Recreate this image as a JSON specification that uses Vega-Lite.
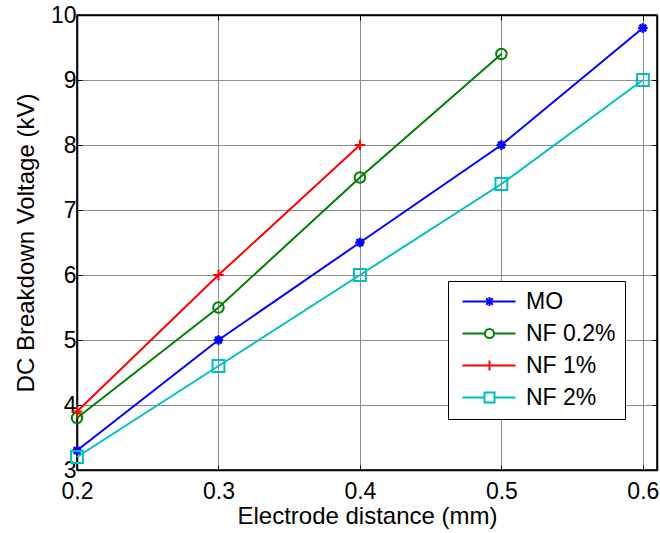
{
  "$schema": "https://vega.github.io/schema/vega-lite/v6.json",
  "width": 580,
  "height": 455,
  "autosize": {"type": "none"},
  "padding": {"left": 77, "top": 15, "right": 3, "bottom": 63},
  "background": "white",
  "config": {
    "font": "Liberation Sans",
    "view": {"stroke": "black", "strokeWidth": 1.5},
    "axis": {"labelFont": "Liberation Sans", "titleFont": "Liberation Sans", "labelFontSize": 23, "titleFontSize": 24, "labelColor": "black", "titleColor": "black", "titleFontWeight": "normal", "domainColor": "black", "domainWidth": 1.5, "tickColor": "black", "gridColor": "#8c8c8c", "gridOpacity": 1, "gridWidth": 1, "labelFlush": false}
  },
  "data": {
    "values": [
      {"x": 0.2, "v": 3.3, "s": "MO"},
      {"x": 0.3, "v": 5.0, "s": "MO"},
      {"x": 0.4, "v": 6.5, "s": "MO"},
      {"x": 0.5, "v": 8.0, "s": "MO"},
      {"x": 0.6, "v": 9.8, "s": "MO"},
      {"x": 0.2, "v": 3.8, "s": "NF 0.2%"},
      {"x": 0.3, "v": 5.5, "s": "NF 0.2%"},
      {"x": 0.4, "v": 7.5, "s": "NF 0.2%"},
      {"x": 0.5, "v": 9.4, "s": "NF 0.2%"},
      {"x": 0.2, "v": 3.9, "s": "NF 1%"},
      {"x": 0.3, "v": 6.0, "s": "NF 1%"},
      {"x": 0.4, "v": 8.0, "s": "NF 1%"},
      {"x": 0.2, "v": 3.2, "s": "NF 2%"},
      {"x": 0.3, "v": 4.6, "s": "NF 2%"},
      {"x": 0.4, "v": 6.0, "s": "NF 2%"},
      {"x": 0.5, "v": 7.4, "s": "NF 2%"},
      {"x": 0.6, "v": 9.0, "s": "NF 2%"}
    ]
  },
  "layer": [
    {
      "transform": [{"filter": "datum.s == 'MO'"}],
      "mark": {"type": "line", "strokeWidth": 2, "color": "#0000ff", "point": {"filled": false, "color": "#0000ff", "strokeWidth": 2.5, "size": 90, "shape": "M-1,0H1M0,-1V1M-0.7,-0.7L0.7,0.7M-0.7,0.7L0.7,-0.7"}},
      "encoding": {
        "x": {"field": "x", "type": "quantitative", "scale": {"domain": [0.2, 0.61], "nice": false, "zero": false},
          "axis": {"orient": "bottom", "title": "Electrode distance (mm)", "values": [0.2, 0.3, 0.4, 0.5, 0.6], "format": ".1f", "tickSize": -5, "labelPadding": 15, "titlePadding": 1, "grid": true}},
        "y": {"field": "v", "type": "quantitative", "scale": {"domain": [3, 10], "nice": false, "zero": false},
          "axis": {"orient": "left", "title": "DC Breakdown Voltage (kV)", "values": [3, 4, 5, 6, 7, 8, 9, 10], "tickSize": -5, "labelPadding": 6, "titlePadding": 12, "grid": true}}
      }
    },
    {
      "transform": [{"filter": "datum.s == 'NF 0.2%'"}],
      "mark": {"type": "line", "strokeWidth": 2, "color": "#008000", "point": {"filled": false, "color": "#008000", "strokeWidth": 2, "size": 110, "shape": "circle"}},
      "encoding": {
        "x": {"field": "x", "type": "quantitative", "axis": null},
        "y": {"field": "v", "type": "quantitative", "axis": null}
      }
    },
    {
      "transform": [{"filter": "datum.s == 'NF 1%'"}],
      "mark": {"type": "line", "strokeWidth": 2, "color": "#ff0000", "point": {"filled": false, "color": "#ff0000", "strokeWidth": 2, "size": 110, "shape": "M-1,0H1M0,-1V1"}},
      "encoding": {
        "x": {"field": "x", "type": "quantitative", "axis": null},
        "y": {"field": "v", "type": "quantitative", "axis": null}
      }
    },
    {
      "transform": [{"filter": "datum.s == 'NF 2%'"}],
      "mark": {"type": "line", "strokeWidth": 2, "color": "#00bfbf", "point": {"filled": false, "color": "#00bfbf", "strokeWidth": 2, "size": 140, "shape": "square"}},
      "encoding": {
        "x": {"field": "x", "type": "quantitative", "axis": null},
        "y": {"field": "v", "type": "quantitative", "axis": null}
      }
    },
    {
      "transform": [{"filter": "datum.x > 100"}],
      "mark": {"type": "point", "filled": false, "strokeWidth": 2, "size": 100, "opacity": 1},
      "encoding": {
        "x": {"field": "x", "type": "quantitative", "axis": {"orient": "top", "labels": false, "title": null, "values": [0.2, 0.3, 0.4, 0.5, 0.6], "tickSize": -5, "grid": false}},
        "y": {"field": "v", "type": "quantitative", "axis": {"orient": "right", "labels": false, "title": null, "values": [3, 4, 5, 6, 7, 8, 9, 10], "tickSize": -5, "grid": false}},
        "color": {"field": "s", "type": "nominal", "scale": {"domain": ["MO", "NF 0.2%", "NF 1%", "NF 2%"], "range": ["#0000ff", "#008000", "#ff0000", "#00bfbf"]}, "legend": {"title": null, "orient": "none", "legendX": 371, "legendY": 266}},
        "shape": {"field": "s", "type": "nominal",
          "scale": {"domain": ["MO", "NF 0.2%", "NF 1%", "NF 2%"], "range": [
            "M-1.2,0H9.4M4.2,-0.9V0.9M3.3,0H5.1M3.55,-0.65L4.85,0.65M3.55,0.65L4.85,-0.65",
            "M-1.2,0H3.3M5.1,0H9.4M5.1,0C5.1,0.497 4.697,0.9 4.2,0.9C3.703,0.9 3.3,0.497 3.3,0C3.3,-0.497 3.703,-0.9 4.2,-0.9C4.697,-0.9 5.1,-0.497 5.1,0Z",
            "M-1.2,0H9.4M4.2,-1V1",
            "M-1.2,0H3.2M5.2,0H9.4M3.2,-1H5.2V1H3.2Z"]},
          "legend": {"title": null, "orient": "none", "legendX": 371, "legendY": 266, "padding": 9, "fillColor": "white", "strokeColor": "black", "cornerRadius": 0, "symbolSize": 100, "symbolStrokeWidth": 2, "symbolOpacity": 1, "labelFontSize": 23, "labelFont": "Liberation Sans", "labelColor": "black", "labelOffset": 46, "rowPadding": 8}}
      }
    }
  ],
  "resolve": {"axis": {"x": "independent", "y": "independent"}}
}
